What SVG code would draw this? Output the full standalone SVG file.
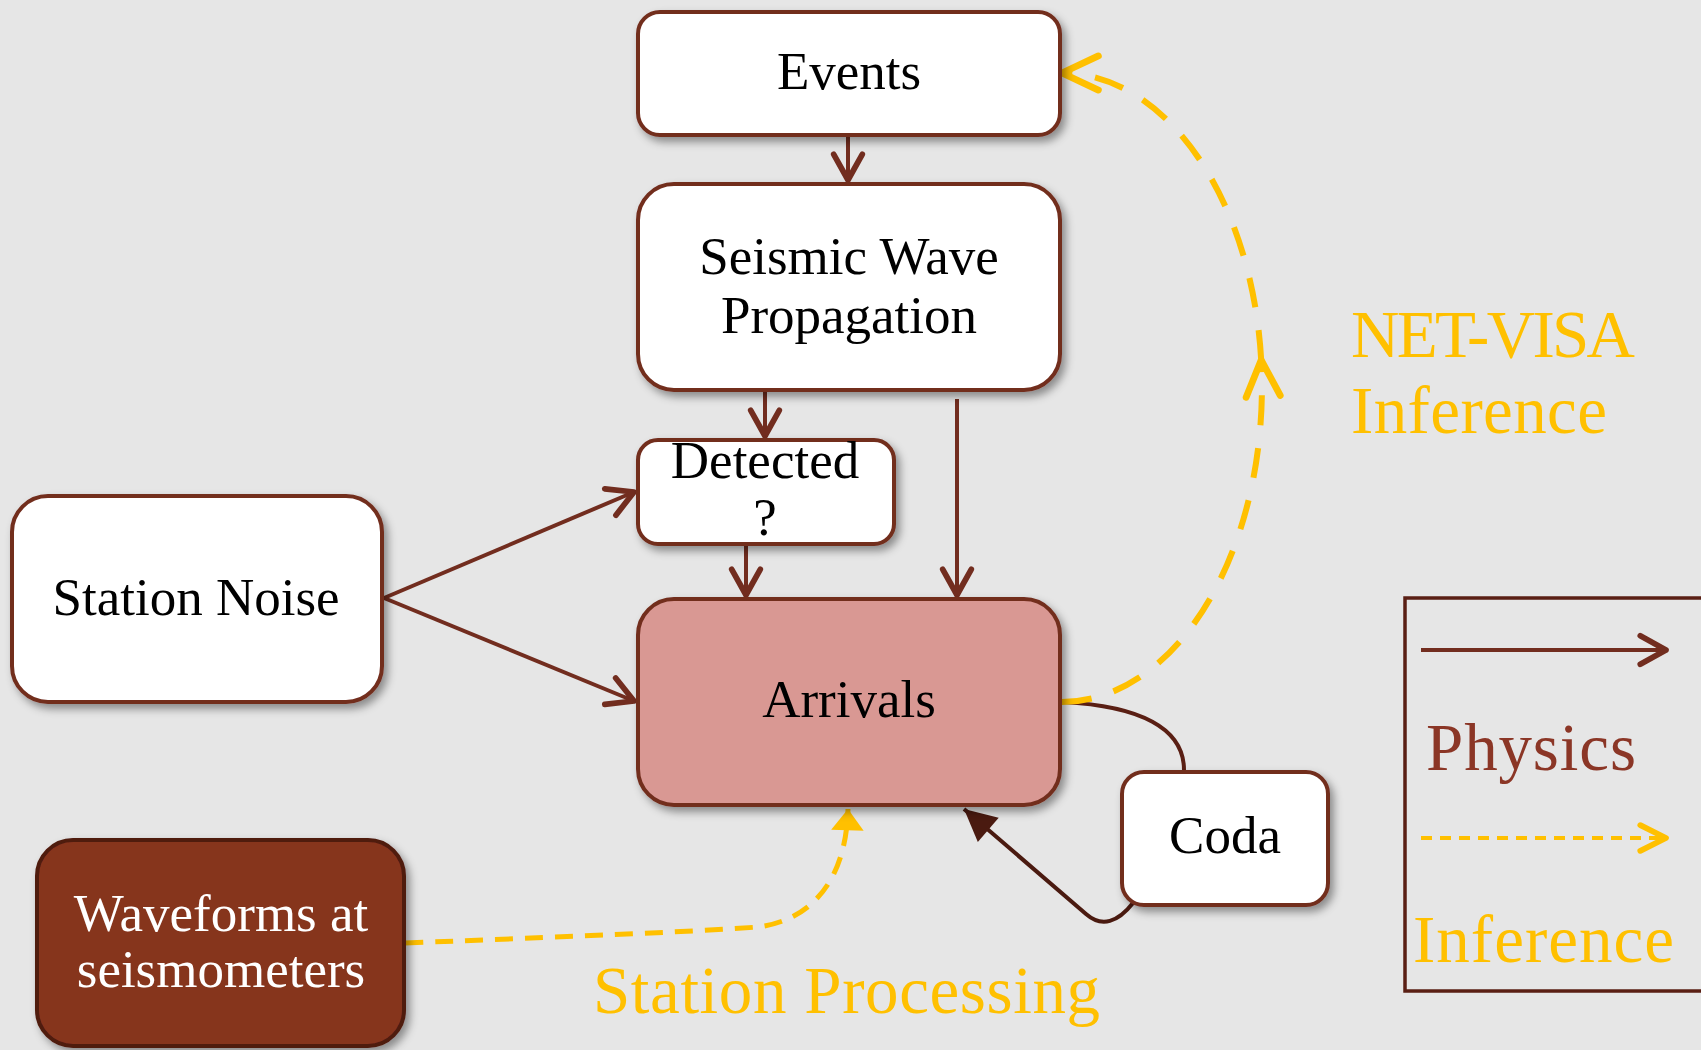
<svg xmlns="http://www.w3.org/2000/svg" width="1701" height="1050" viewBox="0 0 1701 1050">
  <defs>
    <filter id="shadow" x="-10%" y="-10%" width="125%" height="130%">
      <feDropShadow dx="4" dy="5" stdDeviation="4" flood-color="#000" flood-opacity="0.4"/>
    </filter>
    <marker id="chevBrown" markerUnits="userSpaceOnUse" markerWidth="40" markerHeight="40" viewBox="-24 -14 28 28" refX="0" refY="0" orient="auto">
      <path d="M-18,-10 L0,0 L-18,10" fill="none" stroke="#722d1f" stroke-width="4" stroke-linecap="round" stroke-linejoin="round"/>
    </marker>
    <marker id="chevYellow" markerUnits="userSpaceOnUse" markerWidth="50" markerHeight="50" viewBox="-38 -20 44 40" refX="0" refY="0" orient="auto">
      <path d="M-32,-15 L0,0 L-32,15" fill="none" stroke="#ffc000" stroke-width="6" stroke-linecap="round" stroke-linejoin="round"/>
    </marker>
    <marker id="chevYellowSmall" markerUnits="userSpaceOnUse" markerWidth="40" markerHeight="40" viewBox="-24 -14 28 28" refX="0" refY="0" orient="auto">
      <path d="M-18,-9 L0,0 L-18,9" fill="none" stroke="#ffc000" stroke-width="4" stroke-linecap="round" stroke-linejoin="round"/>
    </marker>
    <marker id="triDark" markerUnits="userSpaceOnUse" markerWidth="40" markerHeight="40" viewBox="-26 -14 30 28" refX="0" refY="0" orient="auto">
      <path d="M-24,-12 L0,0 L-24,12 Z" fill="#4a1a10"/>
    </marker>
    <marker id="triYellow" markerUnits="userSpaceOnUse" markerWidth="40" markerHeight="40" viewBox="-20 -16 24 32" refX="0" refY="0" orient="auto">
      <path d="M-17,-13 L0,0 L-17,13 Z" fill="#ffc000"/>
    </marker>
  </defs>
  <style>
    .box { fill: #ffffff; stroke: #722d1f; stroke-width: 4; filter: url(#shadow); }
    .arrivals { fill: #d99893; }
    .wave { fill: #86341f; stroke: #4f1b11; }
    .label { font-family: "Liberation Serif", "Times New Roman", serif; font-size: 53px; fill: #000; text-anchor: middle; }
    .white { fill: #ffffff; }
    .big { font-family: "Liberation Serif", "Times New Roman", serif; font-size: 67px; }
    .gold { fill: #ffc000; }
    .rust { fill: #8b3626; }
    .phys { fill: none; stroke: #722d1f; stroke-width: 4; marker-end: url(#chevBrown); }
    .infer { fill: none; stroke: #ffc000; stroke-width: 6; stroke-dasharray: 30 23; }
  </style>

  <!-- paper background -->
  <rect x="0" y="0" width="1701" height="1050" fill="#e6e6e6"/>

  <!-- connectors -->
  <g id="connectors">
    <!-- physics (solid) -->
    <line class="phys" x1="848" y1="137" x2="848" y2="180"/>
    <line class="phys" x1="765" y1="390" x2="765" y2="436"/>
    <line class="phys" x1="746" y1="544" x2="746" y2="595"/>
    <line class="phys" x1="957" y1="399" x2="957" y2="595"/>
    <line class="phys" x1="384" y1="598" x2="634" y2="492"/>
    <line class="phys" x1="384" y1="598" x2="634" y2="701"/>
    <!-- arrivals to coda -->
    <path d="M1063,702 C1140,706 1184,728 1184,770" fill="none" stroke="#5a1f14" stroke-width="4"/>
    <!-- coda back to arrivals -->
    <path d="M1133,903 C1118,922 1102,928 1086,914 L964,809" fill="none" stroke="#4a1a10" stroke-width="4" marker-end="url(#triDark)"/>

    <!-- inference (dashed) -->
    <path class="infer" d="M1062,702 A200,315 0 0 0 1261.2,360" marker-end="url(#chevYellow)"/>
    <path class="infer" d="M1261.2,360 A200,315 0 0 0 1062,73" marker-end="url(#chevYellow)"/>
    <path d="M405,943 C560,937 690,932 758,927 C812,920 846,880 848,809" fill="none" stroke="#ffc000" stroke-width="5" stroke-dasharray="18 12" marker-end="url(#triYellow)"/>
  </g>

  <!-- nodes -->
  <g id="events">
    <rect class="box" x="638" y="12" width="422" height="123" rx="22"/>
    <text class="label" x="849" y="89">Events</text>
  </g>
  <g id="propagation">
    <rect class="box" x="638" y="184" width="422" height="206" rx="36"/>
    <text class="label" x="849" y="274">Seismic Wave</text>
    <text class="label" x="849" y="333">Propagation</text>
  </g>
  <g id="detected">
    <rect class="box" x="638" y="440" width="256" height="104" rx="20"/>
    <text class="label" x="765" y="478">Detected</text>
    <text class="label" x="765" y="535">?</text>
  </g>
  <g id="station-noise">
    <rect class="box" x="12" y="496" width="370" height="206" rx="36"/>
    <text class="label" x="196" y="615">Station Noise</text>
  </g>
  <g id="arrivals">
    <rect class="box arrivals" x="638" y="599" width="422" height="206" rx="36"/>
    <text class="label" x="849" y="717">Arrivals</text>
  </g>
  <g id="coda">
    <rect class="box" x="1122" y="772" width="206" height="133" rx="22"/>
    <text class="label" x="1225" y="853">Coda</text>
  </g>
  <g id="waveforms">
    <rect class="box wave" x="37" y="840" width="367" height="206" rx="36"/>
    <text class="label white" x="221" y="931">Waveforms at</text>
    <text class="label white" x="221" y="987">seismometers</text>
  </g>

  <!-- process labels -->
  <g id="net-visa-label">
    <text class="big gold" x="1351" y="357" textLength="284">NET-VISA</text>
    <text class="big gold" x="1351" y="433" textLength="256">Inference</text>
  </g>
  <g id="station-processing-label">
    <text class="big gold" x="593" y="1013" textLength="507">Station Processing</text>
  </g>

  <!-- legend -->
  <g id="legend">
    <rect x="1405" y="598" width="310" height="393" fill="none" stroke="#5a1f14" stroke-width="3.5"/>
    <line x1="1421" y1="650" x2="1666" y2="650" stroke="#722d1f" stroke-width="4" marker-end="url(#chevBrown)"/>
    <text class="big rust" x="1426" y="770" textLength="210">Physics</text>
    <line x1="1421" y1="838" x2="1666" y2="838" stroke="#ffc000" stroke-width="4" stroke-dasharray="11 8" marker-end="url(#chevYellowSmall)"/>
    <text class="big gold" x="1413" y="962" textLength="261">Inference</text>
  </g>
</svg>
